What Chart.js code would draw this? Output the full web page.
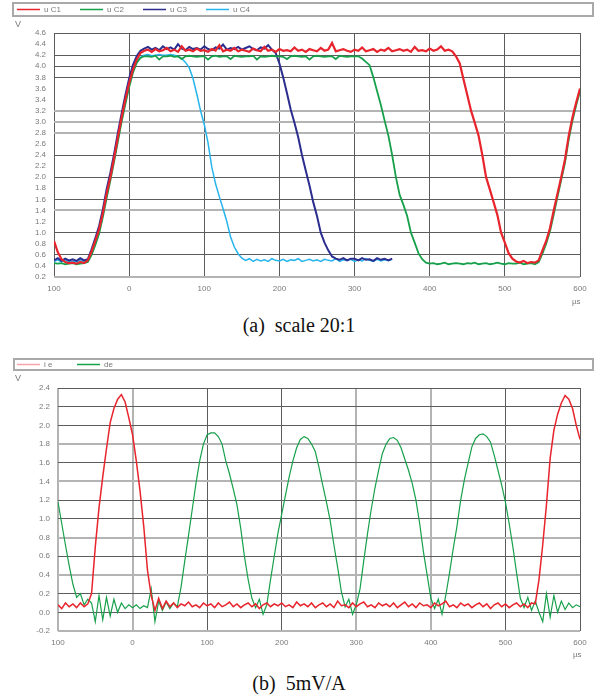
<!DOCTYPE html>
<html><head><meta charset="utf-8">
<script src="https://cdn.jsdelivr.net/npm/chart.js@4.4.1/dist/chart.umd.min.js"></script>
<style>
html,body{margin:0;padding:0;background:#fff;}
body{width:598px;height:700px;position:relative;overflow:hidden;}
.wrap{position:absolute;left:0;width:598px;height:312px;}
.cap{position:absolute;left:0;width:598px;text-align:center;font-family:"Liberation Serif","DejaVu Serif",serif;font-size:20px;color:#111;line-height:24px;}
</style></head>
<body>
<div class="wrap" style="top:0"><canvas id="c1" width="598" height="312"></canvas></div>
<div class="cap" style="top:313px">(a)&nbsp; scale 20:1</div>
<div class="wrap" style="top:350px"><canvas id="c2" width="598" height="312"></canvas></div>
<div class="cap" style="top:671px">(b)&nbsp; 5mV/A</div>
<script>
// sample times (µs)
const timeUs = [-100,-95,-90,-85,-80,-75,-70,-65,-60,-55,-50,-45,-40,-35,-30,-25,-20,-15,-10,-5,
0,5,10,15,20,25,30,35,40,45,50,55,60,65,70,75,80,85,90,95,
100,105,110,115,120,125,130,135,140,145,150,155,160,165,170,175,180,185,190,195,
200,205,210,215,220,225,230,235,240,245,250,255,260,265,270,275,280,285,290,295,
300,305,310,315,320,325,330,335,340,345,350,355,360,365,370,375,380,385,390,395,
400,405,410,415,420,425,430,435,440,445,450,455,460,465,470,475,480,485,490,495,
500,505,510,515,520,525,530,535,540,545,550,555,560,565,570,575,580,585,590,595,600];

const xTickLabels = ['100','0','100','200','300','400','500','600'];

// (a) scale 20:1 — voltages (V)
const topLabels = ['u C1','u C2','u C3','u C4'];
const uC1 = [0.85,0.65,0.52,0.47,0.45,0.46,0.44,0.47,0.45,0.50,
0.66,0.85,1.06,1.35,1.70,2.00,2.35,2.72,3.08,3.40,
3.70,3.94,4.12,4.24,4.28,4.30,4.26,4.31,4.27,4.29,
4.33,4.27,4.30,4.26,4.36,4.28,4.30,4.27,4.32,4.28,
4.29,4.26,4.31,4.28,4.38,4.27,4.30,4.28,4.33,4.27,
4.30,4.28,4.26,4.32,4.29,4.27,4.35,4.28,4.30,4.26,
4.31,4.28,4.29,4.27,4.34,4.28,4.30,4.26,4.31,4.29,
4.27,4.33,4.28,4.30,4.42,4.27,4.29,4.31,4.28,4.26,
4.30,4.28,4.34,4.27,4.29,4.31,4.26,4.30,4.28,4.33,
4.27,4.29,4.31,4.28,4.30,4.26,4.35,4.28,4.29,4.27,
4.32,4.28,4.30,4.36,4.28,4.30,4.27,4.18,4.05,3.76,
3.48,3.20,2.98,2.75,2.40,2.00,1.78,1.55,1.32,1.00,
0.82,0.63,0.53,0.48,0.46,0.49,0.45,0.47,0.46,0.50,
0.68,0.85,1.08,1.40,1.70,2.00,2.32,2.75,3.08,3.35,3.60];
const uC2 = [0.45,0.44,0.45,0.43,0.44,0.45,0.43,0.44,0.45,0.47,
0.60,0.78,0.98,1.28,1.62,1.94,2.28,2.64,3.00,3.32,
3.62,3.88,4.06,4.15,4.18,4.18,4.17,4.19,4.12,4.18,
4.18,4.19,4.17,4.18,4.13,4.18,4.19,4.18,4.17,4.18,
4.18,4.12,4.18,4.19,4.17,4.18,4.18,4.13,4.19,4.18,
4.17,4.18,4.18,4.19,4.12,4.18,4.17,4.18,4.19,4.18,
4.18,4.17,4.13,4.18,4.19,4.18,4.17,4.18,4.12,4.18,
4.19,4.18,4.17,4.18,4.18,4.13,4.19,4.18,4.17,4.18,
4.18,4.18,4.14,4.08,4.02,3.80,3.55,3.30,3.02,2.75,
2.40,2.00,1.68,1.50,1.30,1.00,0.82,0.63,0.52,0.46,
0.44,0.45,0.43,0.44,0.46,0.43,0.44,0.45,0.44,0.43,
0.45,0.44,0.46,0.43,0.44,0.45,0.43,0.44,0.46,0.44,
0.43,0.45,0.44,0.44,0.46,0.43,0.44,0.45,0.43,0.47,
0.62,0.80,1.02,1.32,1.64,1.95,2.26,2.68,3.02,3.30,3.55];
const uC3 = [0.50,0.54,0.49,0.53,0.50,0.52,0.49,0.54,0.50,0.52,
0.70,0.90,1.12,1.42,1.78,2.08,2.42,2.80,3.15,3.48,
3.78,4.02,4.18,4.28,4.32,4.35,4.30,4.33,4.29,4.36,
4.31,4.34,4.30,4.40,4.32,4.29,4.35,4.31,4.33,4.30,
4.36,4.31,4.29,4.34,4.32,4.39,4.30,4.33,4.31,4.35,
4.30,4.33,4.36,4.31,4.29,4.34,4.32,4.38,4.30,4.24,
4.05,3.80,3.52,3.22,2.98,2.72,2.40,2.12,1.85,1.55,
1.30,1.00,0.82,0.68,0.57,0.53,0.51,0.54,0.50,0.53,
0.53,0.50,0.54,0.51,0.52,0.49,0.54,0.51,0.53,0.50,0.53];
const uC4 = [0.48,0.51,0.47,0.50,0.48,0.49,0.47,0.51,0.48,0.50,
0.64,0.82,1.03,1.32,1.68,1.98,2.32,2.68,3.04,3.36,
3.66,3.92,4.08,4.16,4.20,4.21,4.19,4.20,4.21,4.20,
4.20,4.21,4.20,4.18,4.14,4.07,3.97,3.78,3.50,3.20,
2.95,2.62,2.18,1.88,1.65,1.43,1.20,0.92,0.74,0.62,
0.54,0.50,0.53,0.48,0.52,0.49,0.51,0.48,0.53,0.50,
0.49,0.52,0.48,0.51,0.50,0.53,0.48,0.50,0.52,0.49,
0.51,0.48,0.52,0.50,0.49,0.53,0.48,0.51,0.50,0.52,
0.48,0.51,0.49,0.53,0.50,0.48,0.52,0.49,0.51,0.50,0.52];
const topYTicks = [0.2,4.6,0.2]; // min, max, step

// (b) 5mV/A
const bottomLabels = ['i e','de'];
const ie = [0.08,0.04,0.10,0.06,0.09,0.05,0.10,0.06,0.09,0.20,
0.70,1.12,1.45,1.75,2.03,2.18,2.28,2.33,2.25,2.08,
1.90,1.62,1.30,0.92,0.45,0.18,0.02,0.15,0.04,0.12,
0.06,0.10,0.05,0.09,0.07,0.11,0.06,0.08,0.05,0.10,
0.07,0.09,0.05,0.10,0.06,0.08,0.11,0.06,0.09,0.05,
0.08,0.10,0.06,0.09,0.04,0.08,0.10,0.06,0.09,0.07,
0.10,0.06,0.08,0.05,0.11,0.07,0.09,0.06,0.10,0.05,
0.08,0.10,0.06,0.09,0.05,0.12,0.07,0.08,0.05,0.10,
0.06,0.09,0.11,0.06,0.08,0.05,0.10,0.07,0.09,0.06,
0.10,0.05,0.08,0.11,0.06,0.09,0.05,0.10,0.07,0.08,
0.05,0.10,0.07,0.09,0.12,0.06,0.08,0.05,0.10,0.07,
0.09,0.05,0.08,0.10,0.06,0.09,0.04,0.08,0.10,0.06,
0.09,0.05,0.08,0.10,0.06,0.09,0.05,0.10,0.09,0.35,
0.72,1.15,1.65,1.95,2.12,2.24,2.32,2.28,2.18,2.00,1.85];
const de = [1.18,0.95,0.72,0.50,0.30,0.16,0.20,0.08,0.14,0.10,
-0.10,0.18,-0.08,0.16,-0.04,0.14,0.00,0.10,0.04,0.08,
0.05,0.08,0.04,0.07,0.05,0.25,-0.10,0.12,0.02,0.11,
0.04,0.10,0.06,0.27,0.55,0.82,1.10,1.38,1.62,1.80,
1.90,1.92,1.92,1.88,1.80,1.62,1.48,1.32,1.15,0.90,
0.60,0.35,0.15,0.05,0.14,-0.02,0.08,0.35,0.60,0.85,
1.05,1.25,1.45,1.62,1.76,1.85,1.88,1.86,1.80,1.72,
1.55,1.36,1.18,0.98,0.72,0.48,0.22,0.06,0.14,-0.02,
0.08,0.25,0.55,0.84,1.10,1.33,1.52,1.70,1.80,1.86,
1.87,1.84,1.76,1.64,1.52,1.38,1.20,0.95,0.65,0.40,
0.15,0.04,0.14,-0.02,0.18,0.42,0.68,0.92,1.20,1.42,
1.60,1.77,1.86,1.90,1.91,1.88,1.82,1.68,1.52,1.36,
1.18,0.95,0.70,0.42,0.15,0.05,0.16,0.02,0.12,0.00,
-0.10,0.20,-0.05,0.18,0.00,0.12,0.03,0.10,0.05,0.08,0.06];
const bottomYTicks = [-0.2,2.4,0.2];

// ---------- rendering ----------
const FONT = '"Liberation Sans", Arial, sans-serif';
const DARK = '#5c5c5c', LIGHT = '#b4b4b4';
function pts(vals){ return vals.map((v,i)=>({x:timeUs[i], y:v})); }

const deco = {
  id:'deco',
  afterDraw(chart, args, o){
    const ctx = chart.ctx;
    ctx.save();
    ctx.strokeStyle = '#a9a9a9'; ctx.lineWidth = 2;
    ctx.strokeRect(o.box[0], o.box[1], o.box[2], o.box[3]);
    ctx.font = '8px ' + FONT; ctx.textBaseline = 'middle'; ctx.textAlign = 'left';
    chart.data.datasets.forEach((ds,i)=>{
      const x0 = o.lx + i*o.step;
      ctx.strokeStyle = ds.legendColor || ds.borderColor; ctx.lineWidth = 1.5;
      ctx.beginPath(); ctx.moveTo(x0, o.ly); ctx.lineTo(x0+23, o.ly); ctx.stroke();
      ctx.fillStyle = '#7a7a7a';
      ctx.fillText(ds.label, x0+27, o.ly+0.5);
    });
    ctx.fillStyle = '#7a7a7a';
    ctx.font = '9px ' + FONT;
    ctx.fillText('V', o.v[0], o.v[1]);
    ctx.font = '8px ' + FONT;
    ctx.fillText('µs', o.us[0], o.us[1]);
    ctx.restore();
  }
};

function makeChart(id, datasets, yT, cfg){
  return new Chart(document.getElementById(id), {
    type:'line',
    data:{datasets},
    plugins:[deco],
    options:{
      responsive:false, animation:false, devicePixelRatio:1,
      layout:{padding:{left:0, right:18, top:cfg.top, bottom:0}},
      elements:{point:{radius:0}, line:{tension:0}},
      plugins:{legend:{display:false}, tooltip:{enabled:false}, deco:cfg.deco},
      scales:{
        x:{type:'linear', min:-100, max:600,
          afterFit:(s)=>{ s.height = cfg.xh; },
          border:{display:false},
          grid:{drawTicks:false, color:(c)=>cfg.xLight.includes(Math.round(c.tick.value))?LIGHT:DARK,
                lineWidth:(c)=>cfg.xLight.includes(Math.round(c.tick.value))?2:1},
          ticks:{stepSize:100, padding:7, color:'#7a7a7a', font:{size:8, family:FONT}, maxRotation:0, autoSkip:false,
                 callback:(v,i)=>xTickLabels[i]}
        },
        y:{type:'linear', min:yT[0], max:yT[1],
          afterFit:(s)=>{ s.width = cfg.yw; },
          border:{display:false},
          grid:{drawTicks:false, color:(c)=>cfg.yColor(Math.round(c.tick.value*10)),
                lineWidth:(c)=>cfg.yColor(Math.round(c.tick.value*10))===LIGHT?2:1},
          ticks:{stepSize:yT[2], padding:8, color:'#7a7a7a', font:{size:8, family:FONT}, autoSkip:false,
                 callback:(v)=>Number(v).toFixed(1)}
        }
      }
    }
  });
}

const topDark = [46,42,40,38,24,20,16,10,6];
const topLight = [32,30,28,14,2];
makeChart('c1', [
  {label:topLabels[0], data:pts(uC1), borderColor:'#e8242c', borderWidth:2.2},
  {label:topLabels[1], data:pts(uC2), borderColor:'#17a04a', borderWidth:1.8},
  {label:topLabels[2], data:pts(uC3), borderColor:'#2b2d8f', borderWidth:2},
  {label:topLabels[3], data:pts(uC4), borderColor:'#27b4ec', borderWidth:1.5}
], topYTicks, {
  top:33, xh:35, yw:54, xLight:[],
  yColor:(k)=>topLight.includes(k)?LIGHT:(topDark.includes(k)?DARK:'rgba(0,0,0,0)'),
  deco:{box:[13,3,580,13], lx:17, ly:9.5, step:63, v:[15,25], us:[572,302]}
});

const botLight = [18,14,8,4,-2];
makeChart('c2', [
  {label:bottomLabels[0], data:pts(ie), borderColor:'#e8242c', borderWidth:1.5, legendColor:'#f4a3a8'},
  {label:bottomLabels[1], data:pts(de), borderColor:'#17a04a', borderWidth:1.2}
], bottomYTicks, {
  top:38, xh:31, yw:58, xLight:[-100,0,300,400],
  yColor:(k)=>botLight.includes(k)?LIGHT:DARK,
  deco:{box:[14,9,579,11], lx:17, ly:14.5, step:60, v:[15,29], us:[573,305]}
});
</script>
</body></html>
